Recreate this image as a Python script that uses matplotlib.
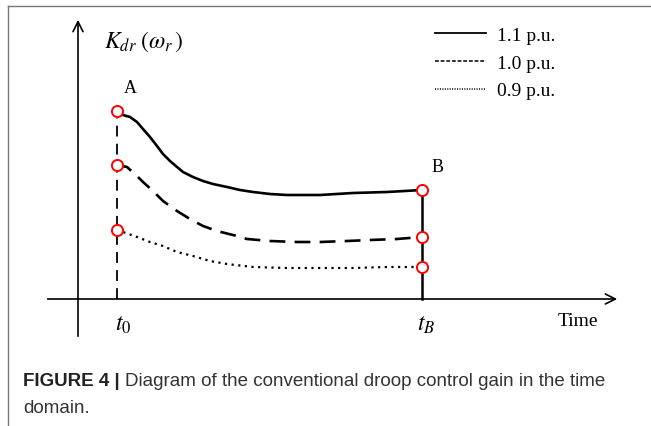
import matplotlib.pyplot as plt
from matplotlib.lines import Line2D

plt.rcParams['mathtext.fontset'] = 'stix'

# droop gain curves (time, gain), arbitrary units, axis origin at 0
t_11 = [0.975, 1.125, 1.3, 1.475, 1.625, 1.8, 1.975, 2.125, 2.3, 2.475, 2.625, 2.875,
        3.125, 3.375, 3.725, 4.05, 4.375, 4.8, 5.225, 6.05, 6.875, 7.725, 8.6]
gain_11 = [4.7, 4.6, 4.55, 4.425, 4.25, 4.05, 3.825, 3.625, 3.45, 3.3, 3.175, 3.05,
           2.95, 2.875, 2.8, 2.725, 2.675, 2.625, 2.6, 2.6, 2.65, 2.675, 2.725]

t_10 = [0.975, 1.225, 1.475, 1.625, 1.875, 2.125, 2.475, 2.8, 3.125, 3.475, 3.975,
        4.225, 4.8, 5.475, 6.05, 6.725, 7.3, 7.975, 8.6]
gain_10 = [3.35, 3.3, 3.075, 2.925, 2.7, 2.45, 2.2, 2.0, 1.825, 1.7, 1.575,
           1.5, 1.45, 1.425, 1.425, 1.45, 1.475, 1.5, 1.55]

t_09 = [0.975, 1.125, 1.475, 1.8, 2.125, 2.475, 2.875, 3.3, 3.725, 4.375, 5.225,
        6.05, 6.875, 7.725, 8.6]
gain_09 = [1.725, 1.675, 1.55, 1.425, 1.325, 1.175, 1.075, 0.95, 0.875, 0.8, 0.775,
           0.775, 0.775, 0.8, 0.8]

labels = ['1.1 p.u.', '1.0 p.u.', '0.9 p.u.']
t0 = t_11[0]
tB = t_11[-1]

fig = plt.figure(figsize=(6.51, 4.27), dpi=100)
ax = fig.add_axes([0, 0, 1, 1])
# 40 px per unit, origin at pixel (78, 300)
ax.set_xlim(-78 / 40, (651 - 78) / 40)
ax.set_ylim(-(427 - 300) / 40, 300 / 40)
ax.axis('off')

serif = 'Liberation Serif'

# axes with arrows
ax.annotate('', xy=(13.55, 0), xytext=(-0.83, 0),
            arrowprops=dict(arrowstyle='->', lw=1.2, color='black', mutation_scale=18))
ax.annotate('', xy=(0, 7.05), xytext=(0, -1.0),
            arrowprops=dict(arrowstyle='->', lw=1.2, color='black', mutation_scale=18))

# the three curves
l1, = ax.plot(t_11, gain_11, color='black', lw=1.9, ls='-', solid_joinstyle='round')
l2, = ax.plot(t_10, gain_10, color='black', lw=1.9, ls=(0, (6, 3.5)))
l3, = ax.plot(t_09, gain_09, color='black', lw=1.6, ls=(0, (1, 2)))

# vertical lines at t0 and tB
ax.plot([t0, t0], [0, gain_11[0]], color='black', lw=1.3, ls=(0, (6, 4)))
ax.plot([tB, tB], [0, gain_11[-1]], color='black', lw=1.8)

# start / end markers
for tt, g in ((t_11, gain_11), (t_10, gain_10), (t_09, gain_09)):
    ax.plot([tt[0], tt[-1]], [g[0], g[-1]], ls='none', marker='o', ms=8,
            mfc='white', mec='red', mew=1.4, zorder=5)

ax.text(t0 + 0.33, gain_11[0] + 0.6, 'A', fontsize=13, family=serif, ha='center', va='center')
ax.text(tB + 0.38, gain_11[-1] + 0.58, 'B', fontsize=13, family=serif, ha='center', va='center')
ax.text(0.65, 6.45, r'$K_{dr}\;(\omega_r\,)$', fontsize=17, ha='left', va='center')

ax.text(t0 + 0.15, -0.6, r'$t_0$', fontsize=17, ha='center', va='center')
ax.text(tB + 0.1, -0.6, r'$t_B$', fontsize=17, ha='center', va='center')
ax.text(12.5, -0.55, 'Time', fontsize=14, family=serif, ha='center', va='center')

leg = ax.legend([l1, l2, l3], labels, loc='upper left', bbox_to_anchor=(435 / 651, 1 - 27 / 427),
                frameon=False, handlelength=2.6, handletextpad=0.6, labelspacing=0.53,
                borderpad=0, borderaxespad=0,
                prop={'family': serif, 'size': 14})
leg_styles = ['-', (0, (2.5, 1.2)), (0, (0.7, 0.9))]
for h, s in zip(leg.get_lines(), leg_styles):
    h.set_linewidth(1.3 if s == '-' else 1.1)
    h.set_linestyle(s)

# caption
fig.text(23 / 651, 1 - 386 / 427, 'FIGURE 4 |', fontsize=13.5, weight='bold',
         family='Liberation Sans', va='baseline', color='#222222')
fig.text(125 / 651, 1 - 386 / 427, 'Diagram of the conventional droop control gain in the time',
         fontsize=13.5, family='Liberation Sans', va='baseline', color='#333333')
fig.text(23 / 651, 1 - 413 / 427, 'domain.', fontsize=13.5, family='Liberation Sans',
         va='baseline', color='#333333')

# panel border (left and top)
fig.add_artist(Line2D([8 / 651, 8 / 651], [0, 1 - 7 / 427], color='#777777', lw=1.0))
fig.add_artist(Line2D([8 / 651, 1], [1 - 7 / 427, 1 - 7 / 427], color='#777777', lw=1.0))

fig.savefig('out.png', dpi=100)
